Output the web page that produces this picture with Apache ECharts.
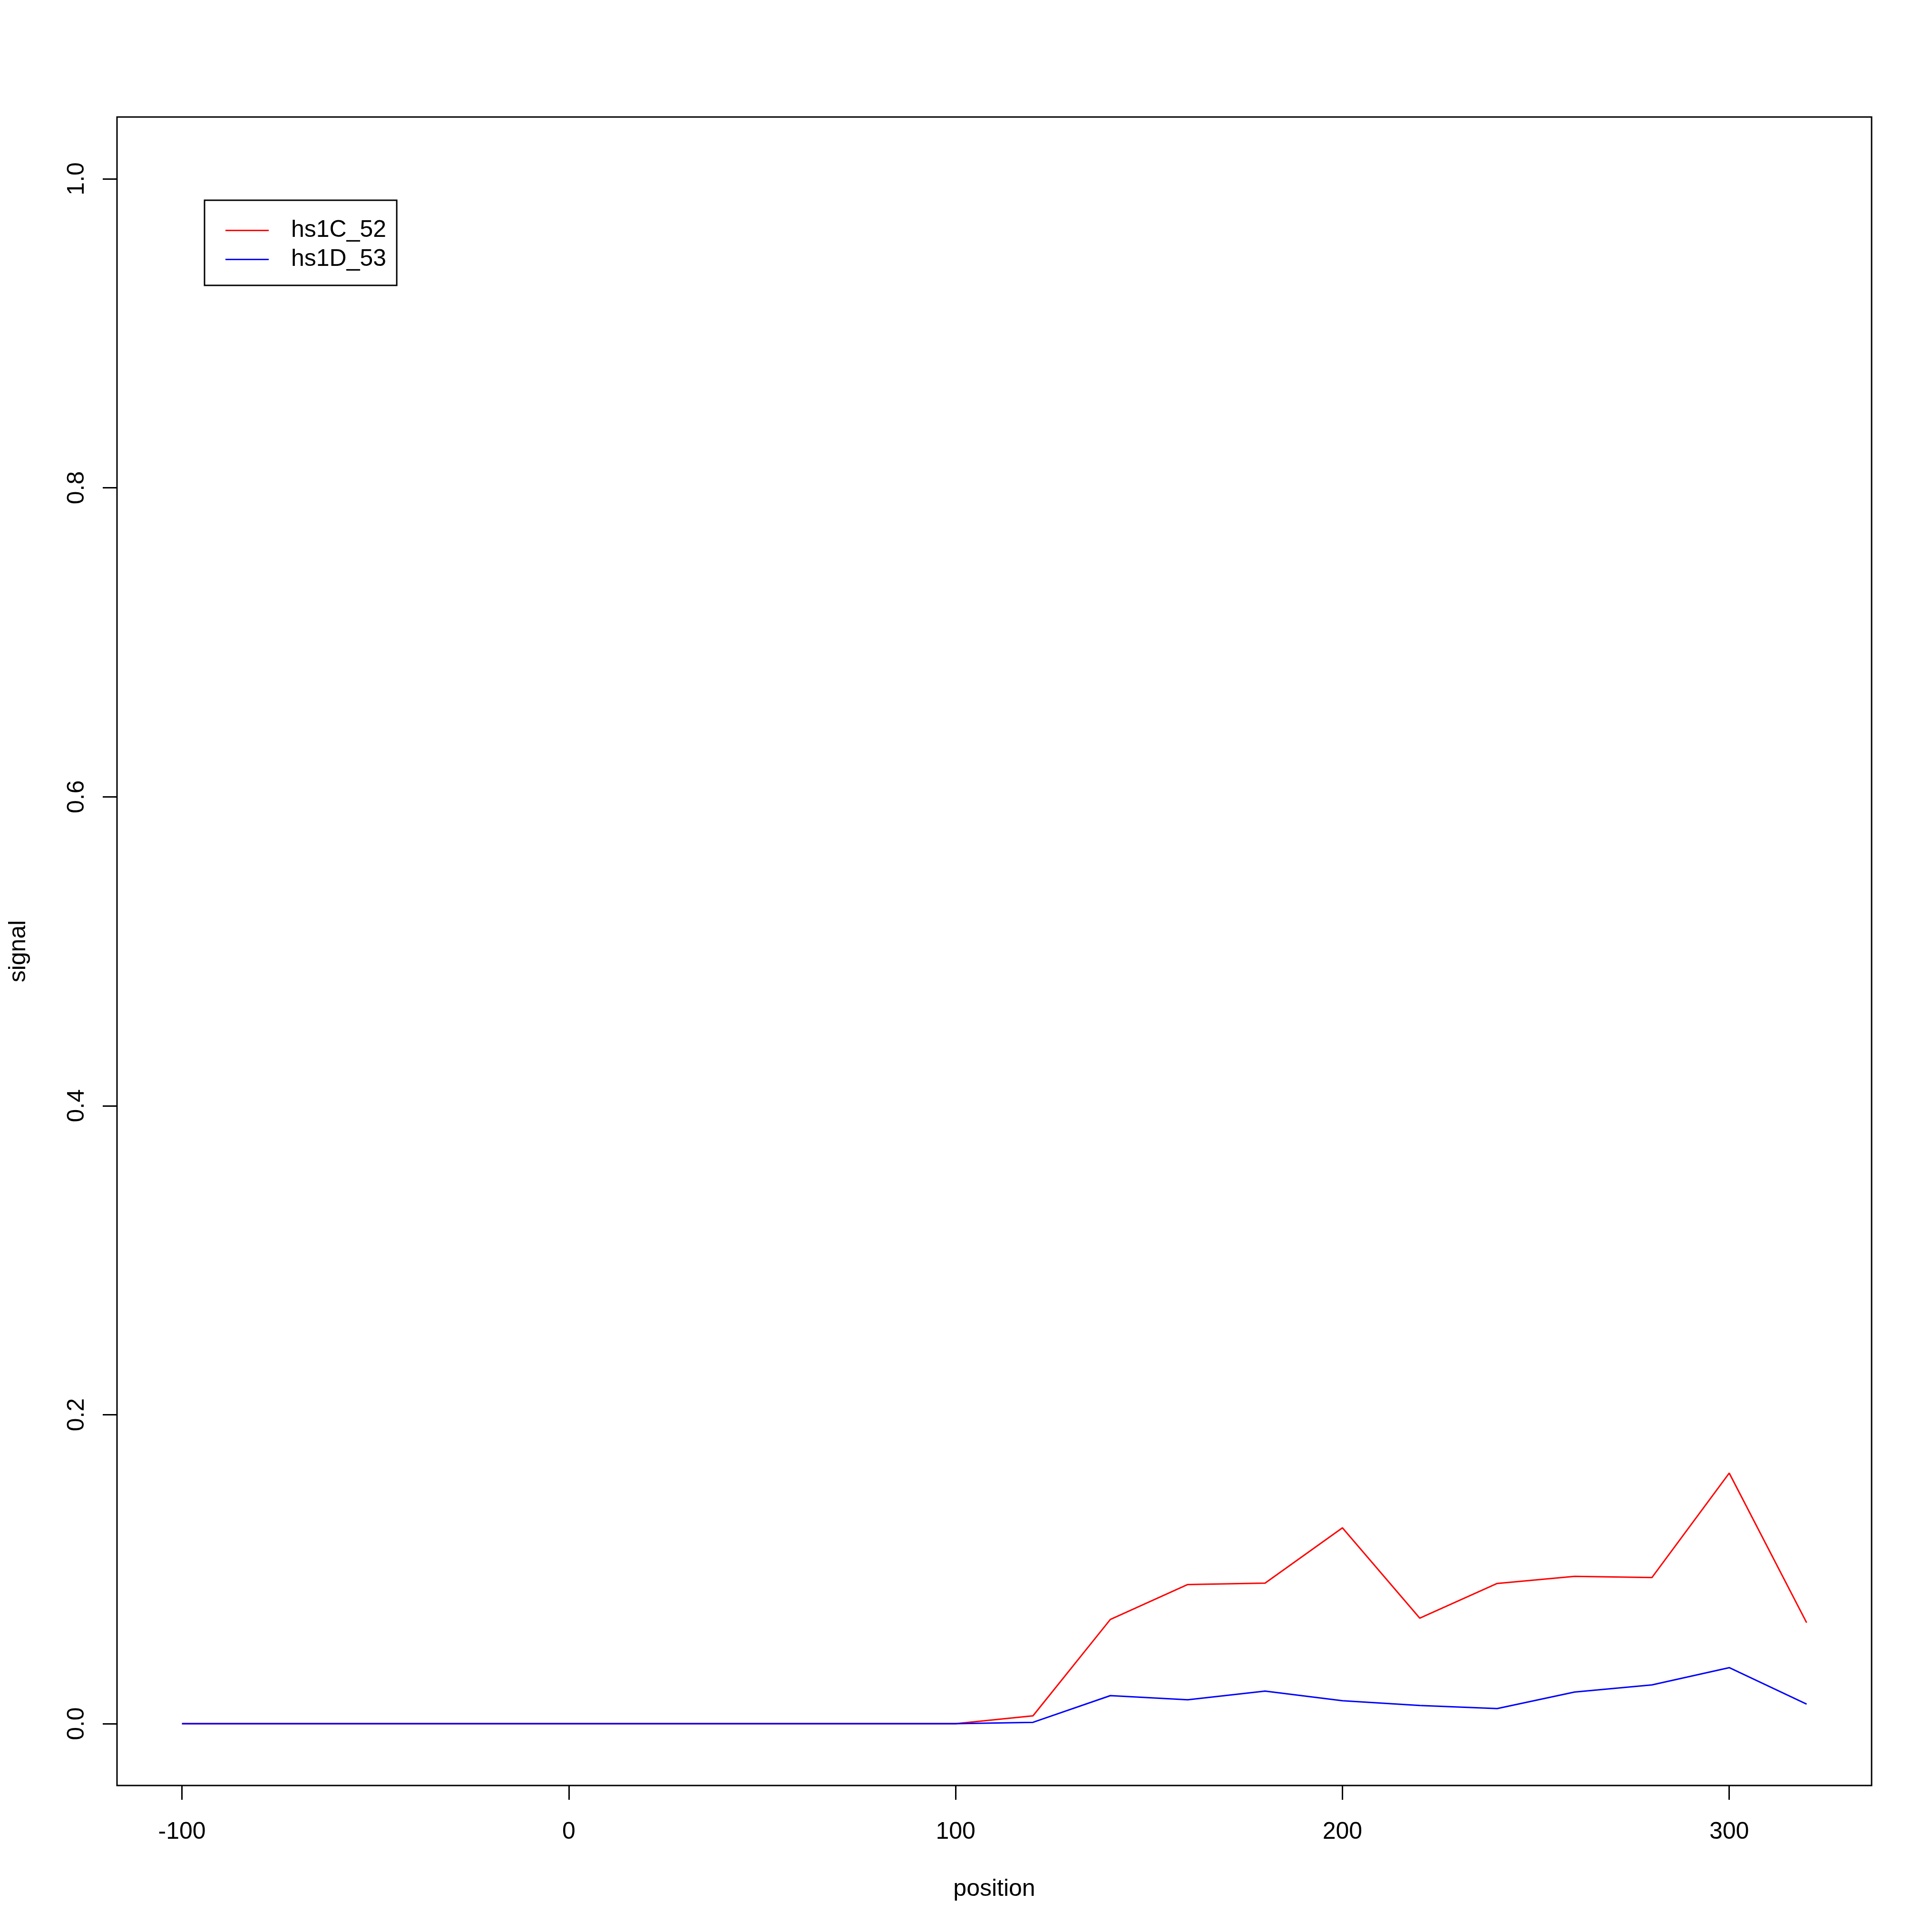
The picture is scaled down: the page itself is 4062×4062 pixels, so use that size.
<!DOCTYPE html>
<html>
<head>
<meta charset="utf-8">
<script src="https://cdn.jsdelivr.net/npm/echarts@6/dist/echarts.min.js"></script>
<style>
html,body{margin:0;padding:0;background:#fff;}
#c{width:4062px;height:4062px;}
</style>
</head>
<body>
<div id="c"></div>
<script>
const positions = [-100,-80,-60,-40,-20,0,20,40,60,80,100,120,140,160,180,200,220,240,260,280,300,320];
const hs1C_52 = [0,0,0,0,0,0,0,0,0,0,0,0.0051,0.0675,0.0901,0.0910,0.1268,0.0683,0.0908,0.0954,0.0946,0.1622,0.0654];
const hs1D_53 = [0,0,0,0,0,0,0,0,0,0,0,0.0009,0.0182,0.0155,0.0211,0.0149,0.0118,0.0098,0.0205,0.0251,0.0363,0.0127];
const xTicks = [-100,0,100,200,300];
const yTicks = [0,0.2,0.4,0.6,0.8,1.0];
const seriesNames = ['hs1C_52','hs1D_53'];

const FONT = 'Liberation Sans';
const chart = echarts.init(document.getElementById('c'), null, {renderer:'canvas'});
const pair = (xs, ys) => xs.map((x,i)=>[x, ys[i]]);

chart.setOption({
  backgroundColor:'#ffffff',
  animation:false,
  textStyle:{fontFamily:FONT},
  grid:{left:246, top:246, width:3689, height:3508, show:true, borderColor:'#000', borderWidth:3, backgroundColor:'transparent'},
  xAxis:{
    type:'value', min:-116.8, max:336.8,
    name:'position', nameLocation:'middle', nameGap:193,
    nameTextStyle:{fontSize:50, color:'#000', fontFamily:FONT},
    axisLine:{show:false, onZero:false},
    splitLine:{show:false},
    axisTick:{show:true, inside:false, length:30, lineStyle:{color:'#000', width:3}, customValues:xTicks},
    axisLabel:{show:true, fontSize:50, color:'#000', fontFamily:FONT, margin:73, customValues:xTicks, formatter:v=>String(v)}
  },
  yAxis:{
    type:'value', min:-0.04, max:1.04,
    name:'signal', nameLocation:'middle', nameGap:182,
    nameTextStyle:{fontSize:50, color:'#000', fontFamily:FONT},
    axisLine:{show:false, onZero:false},
    splitLine:{show:false},
    axisTick:{show:true, inside:false, length:30, lineStyle:{color:'#000', width:3}, customValues:yTicks},
    axisLabel:{show:true, rotate:90, fontSize:50, color:'#000', fontFamily:FONT, margin:59, customValues:yTicks, formatter:v=>v.toFixed(1)}
  },
  legend:{
    show:true, orient:'vertical', left:430, top:421,
    data:seriesNames,
    padding:[33,22,24,44],
    borderColor:'#000', borderWidth:3, backgroundColor:'#fff',
    icon:'rect',
    itemWidth:91, itemHeight:3, itemGap:0,
    textStyle:{fontSize:50, lineHeight:61, color:'#000', fontFamily:FONT, padding:[0,0,0,42]}
  },
  series:[
    {name:seriesNames[0], type:'line', data:pair(positions,hs1C_52), symbol:'none', lineStyle:{color:'#ff0000', width:3}, itemStyle:{color:'#ff0000'}},
    {name:seriesNames[1], type:'line', data:pair(positions,hs1D_53), symbol:'none', lineStyle:{color:'#0000ff', width:3}, itemStyle:{color:'#0000ff'}}
  ]
});
</script>
</body>
</html>
